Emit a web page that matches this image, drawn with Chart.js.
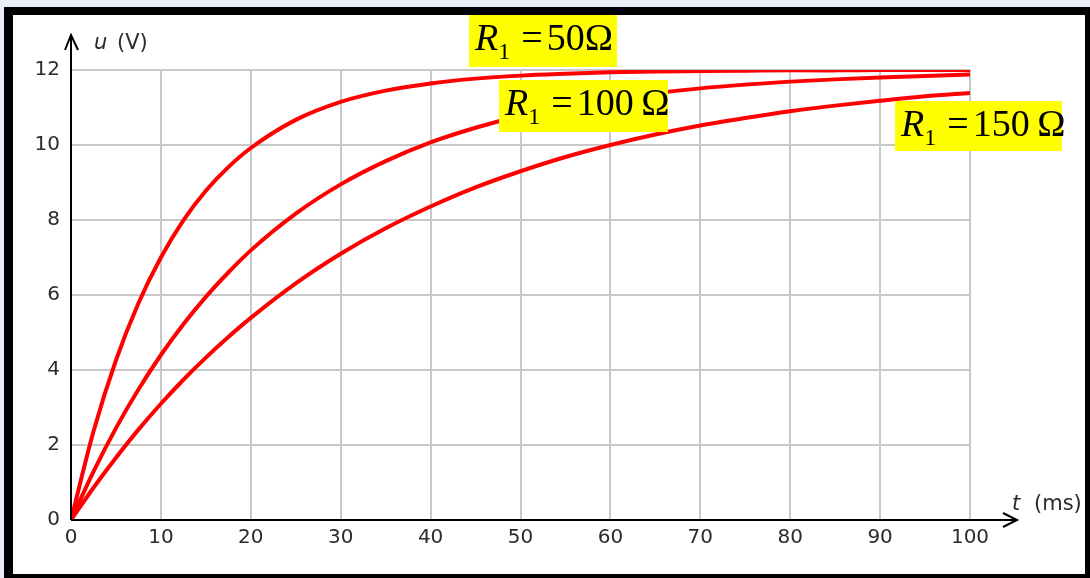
<!DOCTYPE html>
<html>
<head>
<meta charset="utf-8">
<script src="https://cdn.jsdelivr.net/npm/chart.js@4.4.0/dist/chart.umd.min.js"></script>
<style>
  html, body { margin: 0; padding: 0; }
  body { width: 1090px; height: 578px; overflow: hidden; background: #e9eff8; position: relative; }
  #frame {
    position: absolute; left: 4px; top: 7px;
    width: 1072px; height: 559px;
    border: 9px solid #000; border-top-width: 8px;
    background: #fff;
  }
  #wrap { position: absolute; left: 0; top: 0; width: 1090px; height: 578px; }
</style>
</head>
<body>
<div id="frame"></div>
<div id="wrap"><canvas id="chart" width="1090" height="578"></canvas></div>
<script>
// ── Datos ────────────────────────────────
const T_MS    = [0, 2.5, 5, 7.5, 10, 12.5, 15, 17.5, 20, 25, 30, 35, 40, 45, 50, 55, 60, 65, 70, 75, 80, 85, 90, 95, 100];
const U_R50   = [0, 2.36, 4.26, 5.78, 7.00, 7.99, 8.78, 9.41, 9.92, 10.67, 11.15, 11.45, 11.64, 11.77, 11.85, 11.90, 11.94, 11.96, 11.97, 11.98, 11.99, 11.99, 12.0, 12.0, 12.0];
const U_R100  = [0, 1.29, 2.45, 3.48, 4.40, 5.22, 5.95, 6.60, 7.19, 8.17, 8.95, 9.57, 10.07, 10.46, 10.78, 11.03, 11.22, 11.38, 11.51, 11.61, 11.69, 11.75, 11.80, 11.84, 11.88];
const U_R150  = [0, 0.86, 1.66, 2.41, 3.10, 3.74, 4.33, 4.88, 5.39, 6.31, 7.10, 7.78, 8.36, 8.87, 9.30, 9.68, 10.00, 10.28, 10.52, 10.72, 10.90, 11.05, 11.18, 11.30, 11.39];
const X_TICKS = [0, 10, 20, 30, 40, 50, 60, 70, 80, 90, 100];
const Y_TICKS = [0, 2, 4, 6, 8, 10, 12];
const SERIES  = ['50Ω', '100\u2009Ω', '150\u2009Ω'];

const TICK_FONT = { family: 'DejaVu Sans', size: 20 };
const TICK_COLOR = '#2b2b2b';

const toPts = arr => T_MS.map((t, i) => ({ x: t, y: arr[i] }));

// ── Ejes con flechas, títulos y etiquetas amarillas ──
const overlay = {
  id: 'overlay',
  afterDraw(chart) {
    const { ctx, scales: { x, y } } = chart;
    const x0 = x.getPixelForValue(0), y0 = y.getPixelForValue(0);
    ctx.save();
    ctx.strokeStyle = '#000';
    ctx.lineWidth = 2;
    ctx.beginPath();
    ctx.moveTo(x0, y0); ctx.lineTo(x0, 35);
    ctx.moveTo(x0 - 6, 50); ctx.lineTo(x0, 35); ctx.lineTo(x0 + 7, 50);
    ctx.moveTo(x0, y0); ctx.lineTo(1017, y0);
    ctx.moveTo(1003, y0 - 7); ctx.lineTo(1017, y0); ctx.lineTo(1003, y0 + 7);
    ctx.stroke();

    ctx.fillStyle = TICK_COLOR;
    ctx.textBaseline = 'alphabetic';
    ctx.textAlign = 'left';
    ctx.font = 'italic 21px "DejaVu Sans"';
    ctx.fillText('u', 94, 49);
    ctx.fillText('t', 1012, 510);
    ctx.font = '21px "DejaVu Sans"';
    ctx.fillText('(V)', 117, 49);
    ctx.fillText('(ms)', 1034, 510);

    const boxes = [
      { x: 469, y: 15, w: 148, h: 52 },
      { x: 499, y: 80, w: 169, h: 52 },
      { x: 895, y: 101, w: 167, h: 50 }
    ];
    boxes.forEach((b, i) => {
      ctx.fillStyle = '#ffff00';
      ctx.fillRect(b.x, b.y, b.w, b.h);
      ctx.fillStyle = '#000';
      const base = b.y + 35;
      let cx = b.x + 6;
      ctx.font = 'italic 38px "Liberation Serif"';
      ctx.fillText('R', cx, base);
      cx += ctx.measureText('R').width;
      ctx.font = '24px "Liberation Serif"';
      ctx.fillText('1', cx, base + 9);
      cx += ctx.measureText('1').width + 11;
      ctx.font = '38px "Liberation Serif"';
      ctx.fillText('=', cx, base);
      cx += ctx.measureText('=').width + 4;
      ctx.fillText(SERIES[i], cx, base);
    });
    ctx.restore();
  }
};

const lineStyle = {
  borderColor: '#ff0000',
  borderWidth: 4,
  pointRadius: 0,
  fill: false,
  cubicInterpolationMode: 'monotone'
};

new Chart(document.getElementById('chart'), {
  type: 'line',
  data: {
    datasets: [
      { label: 'R1 = 50Ω',  data: toPts(U_R50),  ...lineStyle },
      { label: 'R1 = 100Ω', data: toPts(U_R100), ...lineStyle },
      { label: 'R1 = 150Ω', data: toPts(U_R150), ...lineStyle }
    ]
  },
  options: {
    responsive: false,
    animation: false,
    layout: { padding: { left: 0, top: 70, right: 120, bottom: 0 } },
    plugins: { legend: { display: false }, tooltip: { enabled: false } },
    scales: {
      x: {
        type: 'linear', min: 0, max: 100,
        afterFit: s => { s.height = 58; },
        afterBuildTicks: s => { s.ticks = X_TICKS.map(v => ({ value: v })); },
        grid: { color: '#c8c8c8', lineWidth: 2, drawTicks: false },
        border: { display: false },
        ticks: { color: TICK_COLOR, font: TICK_FONT, padding: 6, maxRotation: 0, autoSkip: false }
      },
      y: {
        type: 'linear', min: 0, max: 12,
        afterFit: s => { s.width = 71; },
        afterBuildTicks: s => { s.ticks = Y_TICKS.map(v => ({ value: v })); },
        grid: { color: '#c8c8c8', lineWidth: 2, drawTicks: false },
        border: { display: false },
        ticks: { color: TICK_COLOR, font: TICK_FONT, padding: 11, autoSkip: false }
      }
    }
  },
  plugins: [overlay]
});
</script>
</body>
</html>
